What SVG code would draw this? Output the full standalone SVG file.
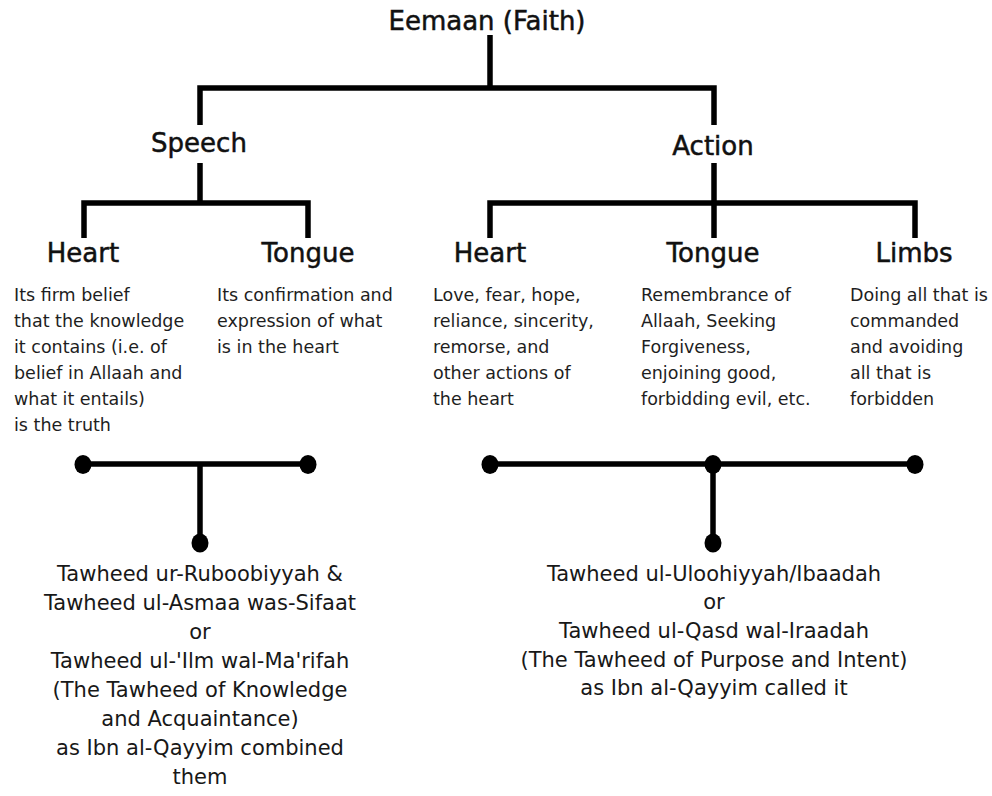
<svg xmlns="http://www.w3.org/2000/svg" width="992" height="796" viewBox="0 0 992 796">
<style>
.h{font-family:"DejaVu Sans","Liberation Sans",sans-serif;font-size:26px;fill:#111;stroke:#111;stroke-width:0.5;text-anchor:middle}
.b{font-family:"DejaVu Sans","Liberation Sans",sans-serif;font-size:17.5px;fill:#1e1e1e}
.t{font-family:"DejaVu Sans","Liberation Sans",sans-serif;font-size:21px;fill:#181818;text-anchor:middle}
.ln{stroke:#000;stroke-width:5.5;fill:none;stroke-linecap:butt}
</style>
<rect width="992" height="796" fill="#fff"/>
<g id="connectors">
<path class="ln" d="M490 35V88M197.25 88H716.75M200 88V125M714 88V125"/>
<path class="ln" d="M200 163V203M81.25 203H310.75M84 203V238M308 203V238"/>
<path class="ln" d="M714 163V238M487.25 203H917.75M490 203V238M915 203V238"/>
<path class="ln" d="M84 464H308M200 464V543"/>
<path class="ln" d="M490 464H915M713 464V543"/>
<g fill="#000">
<ellipse cx="83" cy="464.5" rx="8.5" ry="9.5"/>
<ellipse cx="308" cy="464.5" rx="8.5" ry="9.5"/>
<ellipse cx="200" cy="543" rx="8.5" ry="9.5"/>
<ellipse cx="490" cy="464.5" rx="8.5" ry="9.5"/>
<ellipse cx="713" cy="464.5" rx="8.5" ry="9.5"/>
<ellipse cx="915" cy="464.5" rx="8.5" ry="9.5"/>
<ellipse cx="713" cy="543" rx="8.5" ry="9.5"/>
</g>
</g>
<g id="eemaan"><text class="h" x="487" y="30">Eemaan (Faith)</text></g>
<g id="speech"><text class="h" x="199" y="152">Speech</text></g>
<g id="action"><text class="h" x="713" y="155">Action</text></g>
<g id="speech-heart">
<text class="h" x="83" y="262">Heart</text>
<text class="b" x="14" y="301">Its firm belief</text>
<text class="b" x="14" y="327">that the knowledge</text>
<text class="b" x="14" y="353">it contains (i.e. of</text>
<text class="b" x="14" y="379">belief in Allaah and</text>
<text class="b" x="14" y="405">what it entails)</text>
<text class="b" x="14" y="431">is the truth</text>
</g>
<g id="speech-tongue">
<text class="h" x="308" y="262">Tongue</text>
<text class="b" x="217" y="301">Its confirmation and</text>
<text class="b" x="217" y="327">expression of what</text>
<text class="b" x="217" y="353">is in the heart</text>
</g>
<g id="action-heart">
<text class="h" x="490" y="262">Heart</text>
<text class="b" x="433" y="301">Love, fear, hope,</text>
<text class="b" x="433" y="327">reliance, sincerity,</text>
<text class="b" x="433" y="353">remorse, and</text>
<text class="b" x="433" y="379">other actions of</text>
<text class="b" x="433" y="405">the heart</text>
</g>
<g id="action-tongue">
<text class="h" x="713" y="262">Tongue</text>
<text class="b" x="641" y="301">Remembrance of</text>
<text class="b" x="641" y="327">Allaah, Seeking</text>
<text class="b" x="641" y="353">Forgiveness,</text>
<text class="b" x="641" y="379">enjoining good,</text>
<text class="b" x="641" y="405">forbidding evil, etc.</text>
</g>
<g id="action-limbs">
<text class="h" x="914" y="262">Limbs</text>
<text class="b" x="850" y="301">Doing all that is</text>
<text class="b" x="850" y="327">commanded</text>
<text class="b" x="850" y="353">and avoiding</text>
<text class="b" x="850" y="379">all that is</text>
<text class="b" x="850" y="405">forbidden</text>
</g>
<g id="tawheed-knowledge">
<text class="t" x="200" y="581">Tawheed ur-Ruboobiyyah &amp;</text>
<text class="t" x="200" y="610">Tawheed ul-Asmaa was-Sifaat</text>
<text class="t" x="200" y="639">or</text>
<text class="t" x="200" y="668">Tawheed ul-'Ilm wal-Ma'rifah</text>
<text class="t" x="200" y="697">(The Tawheed of Knowledge</text>
<text class="t" x="200" y="726">and Acquaintance)</text>
<text class="t" x="200" y="755">as Ibn al-Qayyim combined</text>
<text class="t" x="200" y="784">them</text>
</g>
<g id="tawheed-purpose">
<text class="t" x="714" y="581">Tawheed ul-Uloohiyyah/Ibaadah</text>
<text class="t" x="714" y="609">or</text>
<text class="t" x="714" y="638">Tawheed ul-Qasd wal-Iraadah</text>
<text class="t" x="714" y="667">(The Tawheed of Purpose and Intent)</text>
<text class="t" x="714" y="695">as Ibn al-Qayyim called it</text>
</g>
</svg>
